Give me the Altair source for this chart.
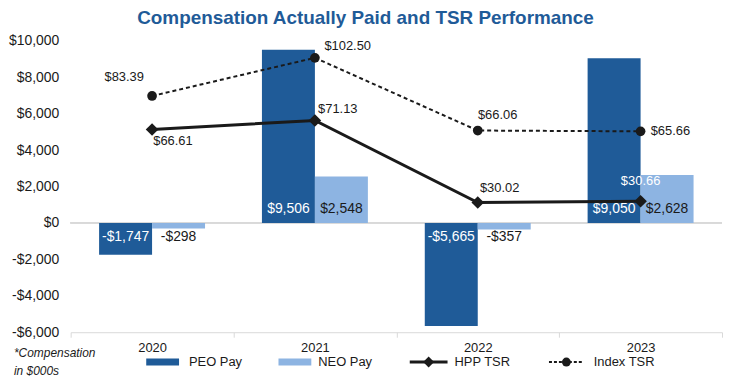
import altair as alt
import pandas as pd

# ---------------- data ----------------
years = ["2020", "2021", "2022", "2023"]
peo_pay = [-1747, 9506, -5665, 9050]
neo_pay = [-298, 2548, -357, 2628]
hpp_tsr = [66.61, 71.13, 30.02, 30.66]
index_tsr = [83.39, 102.50, 66.06, 65.66]
y_ticks = [-6000, -4000, -2000, 0, 2000, 4000, 6000, 8000, 10000]
legend_items = ["PEO Pay", "NEO Pay", "HPP TSR", "Index TSR"]
note_lines = ["*Compensation", "in $000s"]
title_text = "Compensation Actually Paid and TSR Performance"

# ---------------- layout / style ----------------
W, H = 655, 293
DARK = "#1F5B98"
LIGHT = "#8DB4E2"
INK = "#1a1a1a"
GRID = "#D9D9D9"
FONT = "Liberation Sans"

# label offsets (dx, dy) for TSR point labels
tsr_offsets = {
    ("Index TSR", "2020"): (-28, -19),
    ("Index TSR", "2021"): (33, -12),
    ("Index TSR", "2022"): (20, -16),
    ("Index TSR", "2023"): (30, 0),
    ("HPP TSR", "2020"): (21, 12),
    ("HPP TSR", "2021"): (23, -11),
    ("HPP TSR", "2022"): (22, -15),
    ("HPP TSR", "2023"): (0, -20),
}
tsr_label_color = {("HPP TSR", "2023"): "white"}

# legend layout (pixels relative to plot left)
legend_sym_x0 = [76, 209, 341, 481]
legend_sym_x1 = [109, 242, 379, 516]
legend_lab_x = [119, 249, 386, 526]
note_x = -57


def money(v):
    return ("-" if v < 0 else "") + "$" + f"{abs(v):,}"


bar_df = pd.DataFrame({
    "year": years + years,
    "series": [legend_items[0]] * 4 + [legend_items[1]] * 4,
    "value": peo_pay + neo_pay,
})
bar_df["label"] = [money(v) for v in bar_df["value"]]
bar_df["base"] = 0

tsr_df = pd.DataFrame({
    "year": years + years,
    "series": [legend_items[2]] * 4 + [legend_items[3]] * 4,
    "tsr": hpp_tsr + index_tsr,
})
tsr_df["label"] = ["$" + f"{v:.2f}" for v in tsr_df["tsr"]]

# ---------------- encodings ----------------
x_enc = alt.X(
    "year:N", sort=years,
    scale=alt.Scale(domain=years, paddingInner=0, paddingOuter=0),
    axis=alt.Axis(title=None, labelAngle=0, labelFont=FONT, labelFontSize=13,
                  labelColor=INK, domainColor=GRID, tickColor=GRID,
                  tickBand="extent", tickSize=5, labelPadding=4, grid=False),
)
x_off = alt.XOffset(
    "series:N", sort=legend_items[:2],
    scale=alt.Scale(domain=legend_items[:2], paddingInner=0, paddingOuter=0.537),
)
y_scale = alt.Scale(domain=[-6000, 10000], nice=False, zero=False)
y_axis = alt.Axis(title=None, values=y_ticks, grid=False, domain=False, ticks=False,
                  labelOverlap=False,
                  labelFont=FONT, labelFontSize=14, labelColor=INK, labelPadding=12,
                  labelExpr="(datum.value < 0 ? '-' : '') + '$' + format(abs(datum.value), ',')")
y_bar = alt.Y("value:Q", scale=y_scale, axis=y_axis)
y_base = alt.Y("base:Q", scale=y_scale, axis=y_axis)
y_tsr = alt.Y("tsr:Q", scale=alt.Scale(domain=[-35, 111], nice=False, zero=False), axis=None)

# ---------------- bar group ----------------
zero_rule = alt.Chart(bar_df).mark_rule(color=GRID, strokeWidth=1.2).encode(y=y_base)
bars = alt.Chart(bar_df).mark_bar().encode(
    x=x_enc, xOffset=x_off, y=y_bar,
    fill=alt.Fill("series:N", scale=alt.Scale(domain=legend_items[:2], range=[DARK, LIGHT]), legend=None),
)


def bar_label(series, positive, color):
    cond = ">= 0" if positive else "< 0"
    return alt.Chart(bar_df).transform_filter(
        f"datum.series == '{series}' && datum.value {cond}"
    ).mark_text(font=FONT, fontSize=14, color=color, baseline="middle",
                dy=-14 if positive else 14).encode(
        x=x_enc, xOffset=x_off, y=y_base, text="label:N")


bar_labels = [
    bar_label(legend_items[0], True, "white"),
    bar_label(legend_items[0], False, "white"),
    bar_label(legend_items[1], True, INK),
    bar_label(legend_items[1], False, INK),
]
bar_group = alt.layer(zero_rule, bars, *bar_labels)

# ---------------- TSR group ----------------
hpp = alt.Chart(tsr_df).transform_filter("datum.series == 'HPP TSR'")
idx = alt.Chart(tsr_df).transform_filter("datum.series == 'Index TSR'")
idx_line = idx.mark_line(color=INK, strokeWidth=2, strokeDash=[4, 3]).encode(x=x_enc, y=y_tsr)
idx_pts = idx.mark_point(shape="circle", filled=True, size=95, color=INK, opacity=1).encode(x=x_enc, y=y_tsr)
hpp_line = hpp.mark_line(color=INK, strokeWidth=3).encode(x=x_enc, y=y_tsr)
hpp_pts = hpp.mark_point(shape="diamond", filled=True, size=160, color=INK, opacity=1).encode(x=x_enc, y=y_tsr)

tsr_labels = []
for (ser, yr), (dx, dy) in tsr_offsets.items():
    tsr_labels.append(
        alt.Chart(tsr_df).transform_filter(
            f"datum.series == '{ser}' && datum.year == '{yr}'"
        ).mark_text(font=FONT, fontSize=13, baseline="middle", align="center",
                    color=tsr_label_color.get((ser, yr), INK), dx=dx, dy=dy).encode(
            x=x_enc, y=y_tsr, text="label:N")
    )
tsr_group = alt.layer(idx_line, hpp_line, idx_pts, hpp_pts, *tsr_labels)

main_group = alt.layer(bar_group, tsr_group).resolve_scale(y="independent")

# ---------------- legend ----------------
leg_df = pd.DataFrame({
    "item": legend_items,
    "x0": legend_sym_x0,
    "x1": legend_sym_x1,
    "lx": legend_lab_x,
})
leg_df["mid"] = (leg_df["x0"] + leg_df["x1"]) / 2
leg_scale = alt.Scale(domain=[0, W], nice=False, zero=False)
LY = H + 30

sym_style = {
    "PEO Pay": dict(color=DARK, strokeWidth=7),
    "NEO Pay": dict(color=LIGHT, strokeWidth=7),
    "HPP TSR": dict(color=INK, strokeWidth=3),
    "Index TSR": dict(color=INK, strokeWidth=2, strokeDash=[3, 2]),
}
leg_layers = []
for item, st in sym_style.items():
    base = alt.Chart(leg_df).transform_filter(f"datum.item == '{item}'")
    leg_layers.append(base.mark_rule(strokeCap="butt", **st).encode(
        x=alt.X("x0:Q", scale=leg_scale, axis=None), x2="x1:Q", y=alt.value(LY)))
    if item == "HPP TSR":
        leg_layers.append(base.mark_point(shape="diamond", filled=True, size=120, color=INK, opacity=1).encode(
            x=alt.X("mid:Q", scale=leg_scale, axis=None), y=alt.value(LY)))
    if item == "Index TSR":
        leg_layers.append(base.mark_point(shape="circle", filled=True, size=80, color=INK, opacity=1).encode(
            x=alt.X("mid:Q", scale=leg_scale, axis=None), y=alt.value(LY)))
leg_layers.append(alt.Chart(leg_df).mark_text(font=FONT, fontSize=13, align="left", baseline="middle", color=INK).encode(
    x=alt.X("lx:Q", scale=leg_scale, axis=None), y=alt.value(LY), text="item:N"))

note_df = pd.DataFrame({"t": ["\n".join(note_lines)], "nx": [note_x]})
leg_layers.append(alt.Chart(note_df).mark_text(
    font=FONT, fontSize=12, fontStyle="italic", align="left", baseline="middle",
    lineBreak="\n", lineHeight=18, color=INK).encode(
    x=alt.X("nx:Q", scale=leg_scale, axis=None), y=alt.value(H + 21), text="t:N"))
legend_group = alt.layer(*leg_layers)

chart = alt.layer(main_group, legend_group).resolve_scale(
    x="independent", y="independent"
).properties(
    width=W, height=H,
    padding={"left": 0, "top": 0, "right": 0, "bottom": 0},
    title=alt.Title(title_text, font=FONT, fontSize=19, fontWeight="bold",
                    color=DARK, anchor="middle", frame="bounds", offset=6),
).configure_view(stroke=None).configure_axisY(labelOverlap=False)

chart.save("out.html", embed_options={"renderer": "svg", "actions": False})
